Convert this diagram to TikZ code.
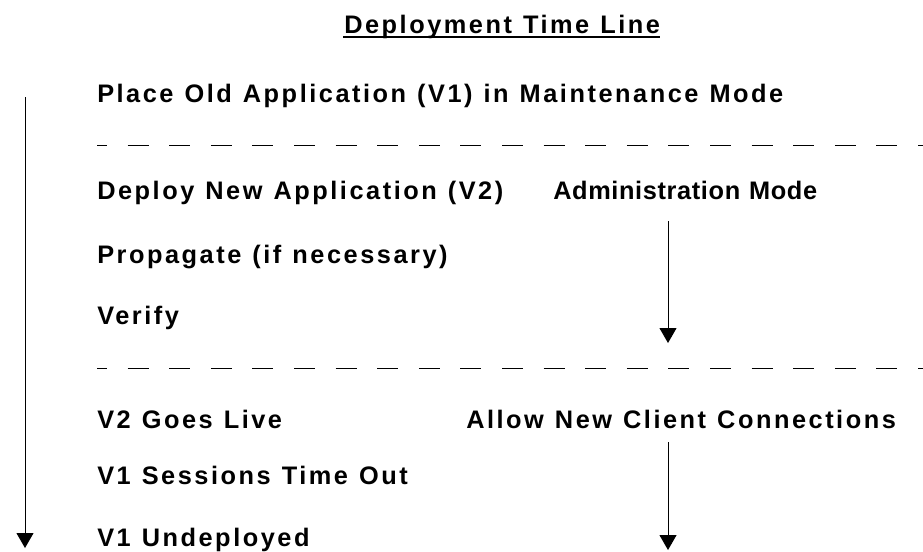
\documentclass[tikz,border=0pt]{standalone}
\usepackage{fontspec}
\setmainfont{Liberation Sans Bold}[LetterSpace=10,WordSpace=1.15]
\usetikzlibrary{arrows.meta}

\begin{document}
\begin{tikzpicture}[x=0.75pt,y=-0.75pt,
	flow/.style={line width=0.75pt,-{Triangle[width=12.75pt,length=11.25pt]}},
	divider/.style={line width=0.75pt,dash pattern=on 15.75pt off 15.45pt,dash phase=8.25pt},
	stage/.style={anchor=base west,inner sep=0pt,font=\fontsize{19pt}{21pt}\selectfont},
	mode/.style={stage,font=\fontsize{19pt}{21pt}\selectfont\addfontfeature{LetterSpace=2.5}}]
	\useasboundingbox (0,0) rectangle (923,551);
	\path (344,33) node (title) [stage] {Deployment Time Line}
		  (97,102) node (old) [stage] {Place Old Application (V1) in Maintenance Mode}
		  (97,199) node (deploy) [stage] {Deploy New Application (V2)}
		  (553,199) node (admin) [mode] {Administration Mode}
		  (97,263) node (prop) [stage] {Propagate (if necessary)}
		  (97,324) node (verify) [stage] {Verify}
		  (97,428) node (live) [stage] {V2 Goes Live}
		  (466,428) node (allow) [stage] {Allow New Client Connections}
		  (97,484) node (timeout) [stage] {V1 Sessions Time Out}
		  (97,546) node (undeploy) [stage] {V1 Undeployed};
	\path (25,97) coordinate (t0)
		  (25,548) coordinate (t1)
		  (668,221) coordinate (a0)
		  (668,343) coordinate (a1)
		  (668,442) coordinate (c0)
		  (668,550) coordinate (c1)
		  (97,145) coordinate (d0)
		  (923,145) coordinate (d1)
		  (97,368) coordinate (e0)
		  (923,368) coordinate (e1);
	\draw[flow] (t0) -- (t1);
	\draw[flow] (a0) -- (a1);
	\draw[flow] (c0) -- (c1);
	\draw[divider] (d0) -- (d1);
	\draw[divider] (e0) -- (e1);
	\draw[line width=1.5pt] ([shift={(-1,4)}]title.base west) -- ([shift={(0,4)}]title.base east);
\end{tikzpicture}
\end{document}
